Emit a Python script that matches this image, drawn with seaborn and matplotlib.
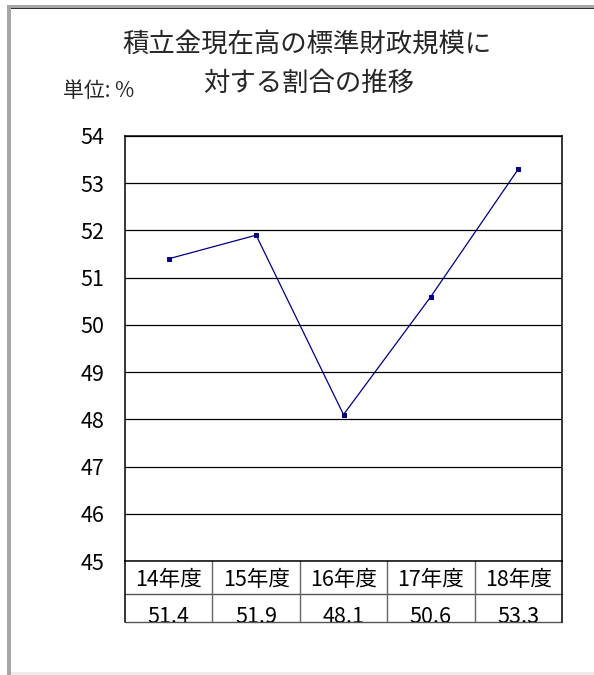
import matplotlib
matplotlib.use('Agg')
import matplotlib.pyplot as plt
import seaborn as sns
import pandas as pd
from matplotlib.patches import Rectangle

# dati
years = ['14年度', '15年度', '16年度', '17年度', '18年度']
ratio = [51.4, 51.9, 48.1, 50.6, 53.3]
ratio_labels = ['51.4', '51.9', '48.1', '50.6', '53.3']
y_ticks = [45, 46, 47, 48, 49, 50, 51, 52, 53, 54]

sns.set_style('white')
plt.rcParams['font.family'] = ['Noto Sans CJK JP', 'DejaVu Sans']

W, H = 594, 675
fig = plt.figure(figsize=(W / 100, H / 100), dpi=100)

def px(x0, y0, w, h):
    # rettangolo in pixel (origine in alto a sinistra) -> coordinate figura
    return (x0 / W, 1 - (y0 + h) / H), w / W, h / H

# cornice grigia
for (x0, y0, w, h, c) in [(7, 5, 4, 670, '#a6a6a6'),
                          (7, 5, 587, 3, '#a6a6a6'),
                          (11, 8, 583, 1.2, '#303030'),
                          (11, 672, 583, 3, '#ececec')]:
    xy, ww, hh = px(x0, y0, w, h)
    fig.add_artist(Rectangle(xy, ww, hh, transform=fig.transFigure,
                             facecolor=c, edgecolor='none'))

ax = fig.add_axes([125 / W, 1 - 561 / H, 437 / W, 425 / H])

df = pd.DataFrame({'year': years, 'ratio': ratio})
sns.lineplot(data=df, x='year', y='ratio', ax=ax, color='#000080',
             linewidth=0.9, marker='s', markersize=3.2,
             markeredgecolor='#000080', sort=False)

ax.set_xlim(-0.5, len(years) - 0.5)
ax.set_ylim(45, 54)
ax.set_yticks(y_ticks)
ax.yaxis.grid(True, color='black', linewidth=0.9)
ax.set_axisbelow(True)
ax.set_xticks([])
ax.set_xlabel('')
ax.set_ylabel('')
ax.tick_params(axis='y', length=0, pad=15, labelsize=15.5, labelcolor='black')
for s in ax.spines.values():
    s.set_color('black')
    s.set_linewidth(1.1)

# tabella dati sotto il grafico
r1 = -33 / 425
r2 = -61 / 425
tr = ax.get_xaxis_transform()
ax.plot([-0.5, 4.5], [r1, r1], transform=tr, color='#555555', lw=1, clip_on=False)
ax.plot([-0.5, 4.5], [r2, r2], transform=tr, color='#555555', lw=1, clip_on=False)
ax.plot([-0.5, -0.5], [0, r2], transform=tr, color='black', lw=1.1, clip_on=False)
ax.plot([4.5, 4.5], [0, r2], transform=tr, color='black', lw=1.1, clip_on=False)
for i in range(1, len(years)):
    ax.plot([i - 0.5, i - 0.5], [0, r2], transform=tr, color='#666666', lw=1, clip_on=False)

clip = Rectangle((0, r2), 1, r1 - r2, transform=ax.transAxes, facecolor='none', edgecolor='none')
ax.add_patch(clip)
clip.set_clip_on(False)
for i, (yr, lab) in enumerate(zip(years, ratio_labels)):
    ax.text(i, -19 / 425, yr, transform=tr, ha='center', va='center',
            fontsize=15.5, color='black', clip_on=False)
    t = ax.text(i, -62 / 425, lab, transform=tr, ha='center', va='baseline',
                fontsize=15.5, color='black', clip_on=True)
    t.set_clip_path(clip)

# titolo e unità
fig.text(307 / W, 1 - 45 / H, '積立金現在高の標準財政規模に', ha='center', va='center', fontsize=19)
fig.text(309 / W, 1 - 83 / H, '対する割合の推移', ha='center', va='center', fontsize=19)
fig.text(63 / W, 1 - 91 / H, '単位: %', ha='left', va='center', fontsize=15)

fig.savefig('out.png', dpi=100)
